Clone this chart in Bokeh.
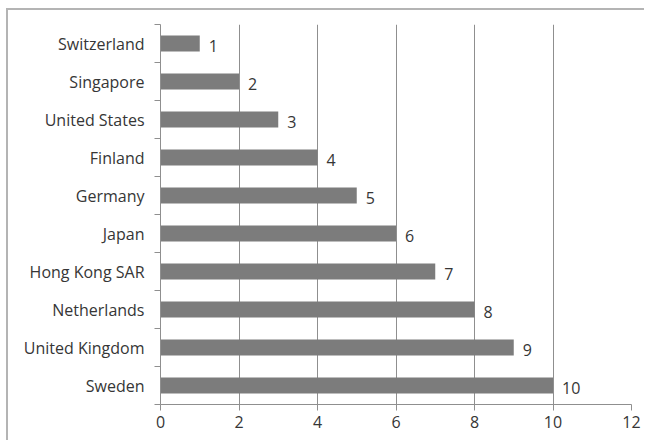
from bokeh.plotting import figure
from bokeh.models import FixedTicker, ColumnDataSource, Range1d
from bokeh.core.properties import value
from bokeh.embed import file_html
from bokeh.resources import INLINE

# Ranking data (top to bottom as displayed)
countries = ["Switzerland", "Singapore", "United States", "Finland", "Germany",
             "Japan", "Hong Kong SAR", "Netherlands", "United Kingdom", "Sweden"]
ranks = [1, 2, 3, 4, 5, 6, 7, 8, 9, 10]
x_ticks = [0, 2, 4, 6, 8, 10, 12]

n = len(countries)
# row positions: first country at the top
ypos = [n - i - 0.5 for i in range(n)]

src = ColumnDataSource(dict(y=ypos, v=ranks, lab=[str(r) for r in ranks], name=countries))

FONT = "Open Sans"
TXT = "#363636"
GRID = "#8f8f8f"

p = figure(width=638, height=432, output_backend="svg", toolbar_location=None,
           x_range=Range1d(0, 12), y_range=Range1d(0, n),
           min_border_left=152, min_border_right=15, min_border_top=14,
           min_border_bottom=38)
p.styles = {"margin-left": "6px", "margin-top": "8px",
            "border-left": "2px solid #b4b4b4", "border-top": "2px solid #b4b4b4"}
p.outline_line_color = None
p.background_fill_color = "white"
p.border_fill_color = "white"

p.hbar(y="y", right="v", left=0, height=0.42, source=src,
       fill_color="#7c7c7c", line_color=None)

p.text(x="v", y="y", text="lab", source=src, x_offset=9, y_offset=2,
       text_font=value(FONT), text_font_size="16px", text_color=TXT,
       text_baseline="middle", text_align="left")

# x axis
p.xaxis.ticker = FixedTicker(ticks=x_ticks)
p.xaxis.axis_line_color = GRID
p.xaxis.major_tick_line_color = GRID
p.xaxis.major_tick_out = 6
p.xaxis.major_tick_in = 0
p.xaxis.minor_tick_line_color = None
p.xaxis.major_label_text_font = FONT
p.xaxis.major_label_text_font_size = "16px"
p.xaxis.major_label_text_color = TXT
p.xaxis.major_label_standoff = 5

# y axis: labels at row centres, ticks at row boundaries
p.yaxis.ticker = FixedTicker(ticks=ypos, minor_ticks=list(range(n + 1)))
p.yaxis.major_label_overrides = {y: c for y, c in zip(ypos, countries)}
p.yaxis.axis_line_color = GRID
p.yaxis.major_tick_line_color = None
p.yaxis.minor_tick_line_color = GRID
p.yaxis.minor_tick_out = 6
p.yaxis.minor_tick_in = 0
p.yaxis.major_label_text_font = FONT
p.yaxis.major_label_text_font_size = "16px"
p.yaxis.major_label_text_color = TXT
p.yaxis.major_label_standoff = 10

p.xgrid.ticker = FixedTicker(ticks=x_ticks[1:])
p.xgrid.grid_line_color = GRID
p.ygrid.grid_line_color = None

open("out.html", "w").write(file_html(p, INLINE))
